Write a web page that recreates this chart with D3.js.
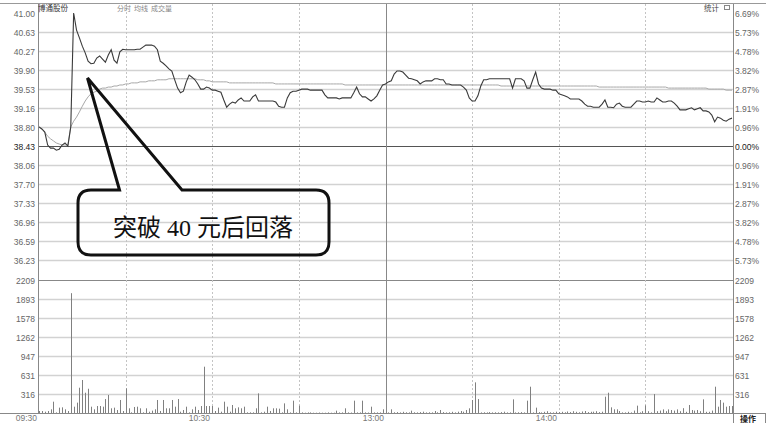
<!DOCTYPE html>
<html><head><meta charset="utf-8">
<script src="https://cdn.jsdelivr.net/npm/d3@7"></script>
<style>html,body{margin:0;padding:0;background:#fff;}svg{display:block;}</style>
</head><body>
<svg id="c" width="766" height="423"></svg>
<script>
// ---- data ----
const stockName = "博通股份";
const headerItems = ["分时","均线","成交量"];
const priceTicks = ["41.00","40.63","40.27","39.90","39.53","39.16","38.80","38.43","38.06","37.70","37.33","36.96","36.59","36.23"];
const pctTicks = ["6.69%","5.73%","4.78%","3.82%","2.87%","1.91%","0.96%","0.00%","0.96%","1.91%","2.87%","3.82%","4.78%","5.73%"];
const volTicks = [2209,1893,1578,1262,947,631,316];
const timeMarks = [0,30,60,90,120,150,180,210,240];
const timeLabels = [{m:0,t:"09:30"},{m:60,t:"10:30"},{m:120,t:"13:00"},{m:180,t:"14:00"}];
const prevClose = 38.43;
const price = [
38.80,38.76,38.70,38.45,38.39,38.39,38.35,38.37,38.45,38.49,38.43,38.80,
41.00,40.67,40.52,40.36,40.23,40.07,40.02,40.03,40.13,40.17,40.11,40.05,
40.19,40.29,40.09,40.03,40.25,40.30,40.29,40.29,40.29,40.29,40.30,40.30,
40.34,40.38,40.38,40.38,40.36,40.29,40.07,40.03,39.98,39.92,39.88,39.71,
39.55,39.46,39.49,39.67,39.80,39.76,39.71,39.63,39.53,39.53,39.57,39.55,
39.51,39.51,39.49,39.47,39.32,39.18,39.24,39.28,39.26,39.32,39.36,39.30,
39.30,39.30,39.38,39.42,39.30,39.30,39.30,39.30,39.30,39.30,39.28,39.20,
39.18,39.18,39.36,39.46,39.49,39.49,39.51,39.53,39.53,39.53,39.51,39.51,
39.51,39.51,39.51,39.42,39.36,39.36,39.36,39.36,39.34,39.36,39.36,39.36,
39.36,39.46,39.57,39.44,39.38,39.38,39.34,39.30,39.34,39.40,39.51,39.61,
39.63,39.67,39.69,39.82,39.88,39.88,39.86,39.80,39.74,39.73,39.71,39.69,
39.63,39.67,39.69,39.69,39.69,39.73,39.73,39.71,39.71,39.63,39.63,39.61,
39.61,39.61,39.61,39.57,39.51,39.36,39.30,39.30,39.40,39.59,39.71,39.71,
39.73,39.73,39.73,39.73,39.73,39.73,39.73,39.73,39.55,39.73,39.73,39.73,
39.69,39.55,39.55,39.71,39.86,39.63,39.55,39.53,39.53,39.53,39.51,39.51,
39.44,39.42,39.40,39.38,39.34,39.34,39.34,39.34,39.30,39.24,39.20,39.20,
39.18,39.18,39.18,39.24,39.32,39.18,39.18,39.17,39.24,39.26,39.20,39.18,
39.18,39.18,39.24,39.30,39.30,39.28,39.28,39.30,39.28,39.28,39.36,39.32,
39.28,39.28,39.30,39.30,39.26,39.20,39.13,39.13,39.13,39.15,39.17,39.13,
39.15,39.17,39.11,39.11,39.09,39.03,38.90,38.99,38.97,38.93,38.91,38.95,38.97
];
const avgPrice = [
38.80,38.76,38.70,38.62,38.57,38.53,38.49,38.47,38.45,38.45,38.45,38.80,
38.91,38.99,39.09,39.20,39.30,39.38,39.44,39.47,39.49,39.53,39.55,39.55,
39.57,39.57,39.59,39.59,39.61,39.61,39.63,39.63,39.65,39.65,39.65,39.67,
39.67,39.67,39.69,39.69,39.69,39.71,39.71,39.71,39.71,39.73,39.73,39.73,
39.73,39.73,39.73,39.73,39.73,39.73,39.73,39.71,39.71,39.71,39.69,39.69,
39.67,39.67,39.67,39.67,39.67,39.67,39.65,39.65,39.65,39.65,39.65,39.65,
39.65,39.65,39.65,39.65,39.65,39.65,39.65,39.65,39.65,39.65,39.63,39.63,
39.63,39.63,39.63,39.63,39.63,39.63,39.63,39.63,39.63,39.63,39.63,39.63,
39.63,39.63,39.63,39.63,39.63,39.63,39.63,39.63,39.63,39.63,39.61,39.61,
39.61,39.61,39.61,39.61,39.61,39.61,39.61,39.61,39.61,39.61,39.61,39.61,
39.61,39.61,39.61,39.61,39.61,39.61,39.61,39.61,39.61,39.61,39.61,39.61,
39.61,39.61,39.61,39.61,39.61,39.61,39.61,39.61,39.61,39.61,39.61,39.61,
39.61,39.61,39.61,39.61,39.61,39.61,39.61,39.61,39.61,39.61,39.61,39.61,
39.61,39.61,39.61,39.61,39.59,39.59,39.59,39.59,39.59,39.59,39.59,39.59,
39.59,39.59,39.59,39.59,39.59,39.59,39.59,39.59,39.59,39.59,39.59,39.59,
39.59,39.59,39.59,39.59,39.59,39.59,39.59,39.59,39.59,39.59,39.59,39.59,
39.59,39.59,39.57,39.57,39.57,39.57,39.57,39.57,39.57,39.57,39.57,39.57,
39.57,39.57,39.57,39.57,39.57,39.57,39.57,39.57,39.57,39.57,39.57,39.57,
39.57,39.57,39.55,39.55,39.55,39.55,39.55,39.55,39.55,39.55,39.55,39.55,
39.55,39.55,39.55,39.55,39.53,39.53,39.53,39.53,39.53,39.53,39.51,39.51,39.51
];
const volume = [
33,33,22,33,61,188,10,89,94,61,33,1990,
105,172,420,548,337,403,105,61,116,116,105,232,
299,78,89,50,216,33,409,78,11,100,105,78,
11,78,22,39,61,216,33,216,78,78,216,105,
232,22,50,105,11,61,105,50,116,769,116,116,
116,33,89,22,188,105,22,133,78,94,78,105,
11,11,11,78,326,11,22,105,33,78,78,72,
10,160,61,10,205,10,122,10,5,10,10,5,
5,8,5,5,10,5,5,39,10,10,78,10,
8,205,10,10,205,10,8,105,10,10,10,61,
10,10,61,12,15,10,20,12,10,39,12,10,
15,22,10,12,10,33,12,50,15,10,12,20,
10,22,33,22,50,78,216,509,232,10,12,10,
15,10,12,10,15,22,10,10,227,10,12,15,
10,205,437,10,89,15,10,20,30,12,10,22,
15,20,12,25,15,30,20,12,25,33,15,20,
22,30,15,22,271,337,94,61,61,33,10,10,
20,10,40,122,10,30,127,30,10,315,30,40,
60,30,60,50,40,60,30,80,20,133,50,40,
50,30,227,20,20,40,437,105,216,172,105,116,116
];

// ---- chart ----
const svg = d3.select("#c");
const L = 38, R = 733;
const x = d3.scaleLinear().domain([0,240]).range([39,732]);
const y = d3.scaleLinear().domain([36.23,41.00]).range([260,13]);
const yv = d3.scaleLinear().domain([0,2209]).range([413,280]);
const numFont = "'Liberation Sans', Arial, sans-serif";
const cjkFont = "'Noto Sans CJK SC', sans-serif";

// outer frame
svg.append("line").attr("x1",0).attr("x2",766).attr("y1",3.5).attr("y2",3.5).attr("stroke","#999");
svg.append("line").attr("x1",0).attr("x2",766).attr("y1",413.5).attr("y2",413.5).attr("stroke","#888");

// horizontal grid (price)
priceTicks.forEach((t,i)=>{
  const yy = Math.round(y(+t))+0.5;
  if(i>0){
    svg.append("line").attr("x1",L).attr("x2",R).attr("y1",yy).attr("y2",yy)
      .attr("stroke", t==="38.43" ? "#555" : "#d2d2d2").attr("stroke-width", t==="38.43"?1:1.6);
  }
  svg.append("text").attr("x",35).attr("y",yy+3).attr("text-anchor","end")
    .attr("font-family",numFont).attr("font-size",8.5)
    .attr("fill", t==="38.43" ? "#222" : "#666").text(t);
  svg.append("text").attr("x",735).attr("y",yy+3)
    .attr("font-family",numFont).attr("font-size",8.5)
    .attr("fill", pctTicks[i]==="0.00%" ? "#222" : "#666").text(pctTicks[i]);
});
// volume grid
volTicks.forEach((v,i)=>{
  const yy = Math.round(yv(v))+0.5;
  svg.append("line").attr("x1",L).attr("x2",R).attr("y1",yy).attr("y2",yy)
    .attr("stroke", i===0 ? "#888" : "#d2d2d2").attr("stroke-width", i===0?1.2:1.6);
  svg.append("text").attr("x",35).attr("y",yy+3).attr("text-anchor","end")
    .attr("font-family",numFont).attr("font-size",8.5).attr("fill","#666").text(v);
  svg.append("text").attr("x",735).attr("y",yy+3)
    .attr("font-family",numFont).attr("font-size",8.5).attr("fill","#666").text(v);
});

// vertical time lines
timeMarks.forEach(m=>{
  const xx = Math.round(x(m))+0.5;
  if(m===0||m===240) return;
  const solid = m===120;
  svg.append("line").attr("x1",xx).attr("x2",xx).attr("y1",4).attr("y2",413)
    .attr("stroke", solid ? "#888" : "#c4c4c4").attr("stroke-width",1)
    .attr("stroke-dasharray", solid ? null : "2,2");
});
svg.append("line").attr("x1",L+0.5).attr("x2",L+0.5).attr("y1",4).attr("y2",413).attr("stroke","#888");
svg.append("line").attr("x1",R+0.5).attr("x2",R+0.5).attr("y1",4).attr("y2",423).attr("stroke","#888");

// time labels
timeLabels.forEach(d=>{
  svg.append("text").attr("x",Math.round(x(d.m))-2).attr("y",421).attr("text-anchor","end")
    .attr("font-family",numFont).attr("font-size",8.5).attr("fill","#777").text(d.t);
});

// volume bars
svg.append("g").selectAll("line").data(volume).join("line")
  .attr("x1",(d,i)=>Math.round(x(i))+0.5).attr("x2",(d,i)=>Math.round(x(i))+0.5)
  .attr("y1",yv(0)).attr("y2",d=>yv(d))
  .attr("stroke","#808080").attr("stroke-width",1);

// avg line
svg.append("path").datum(avgPrice)
  .attr("d", d3.line().x((d,i)=>x(i)).y(d=>y(d)))
  .attr("fill","none").attr("stroke","#a8a8a8").attr("stroke-width",1);
// price line
svg.append("path").datum(price)
  .attr("d", d3.line().x((d,i)=>x(i)).y(d=>y(d)))
  .attr("fill","none").attr("stroke","#3a3a3a").attr("stroke-width",1.1);

// header
svg.append("text").attr("x",38).attr("y",11).attr("font-family",cjkFont)
  .attr("font-size",7.5).attr("fill","#333").text(stockName);
const hx = [117,134,151];
headerItems.forEach((h,i)=>{
  svg.append("text").attr("x",hx[i]).attr("y",11).attr("font-family",cjkFont)
    .attr("font-size",7).attr("fill","#888").text(h);
});
svg.append("text").attr("x",704).attr("y",11).attr("font-family",cjkFont)
  .attr("font-size",7.5).attr("fill","#444").text("统计");
svg.append("rect").attr("x",724.5).attr("y",5.5).attr("width",5).attr("height",4).attr("fill","none").attr("stroke","#888");
// 操作 box
svg.append("rect").attr("x",733.5).attr("y",413.5).attr("width",32).attr("height",10).attr("fill","#fff").attr("stroke","#888");
svg.append("text").attr("x",740).attr("y",421.5).attr("font-family",cjkFont)
  .attr("font-size",8).attr("font-weight","bold").attr("fill","#222").text("操作");

// callout
const p = d3.path();
const bx0=78,bx1=329,by0=190,by1=255,r=13, tipX=87.5,tipY=78, b1=119.5,b2=182;
p.moveTo(b1,by0); p.lineTo(tipX,tipY); p.lineTo(b2,by0);
p.lineTo(bx1-r,by0); p.quadraticCurveTo(bx1,by0,bx1,by0+r);
p.lineTo(bx1,by1-r); p.quadraticCurveTo(bx1,by1,bx1-r,by1);
p.lineTo(bx0+r,by1); p.quadraticCurveTo(bx0,by1,bx0,by1-r);
p.lineTo(bx0,by0+r); p.quadraticCurveTo(bx0,by0,bx0+r,by0);
p.closePath();
svg.append("path").attr("d",p.toString()).attr("fill","none").attr("stroke","#111").attr("stroke-width",3).attr("stroke-linejoin","miter");
svg.append("text").attr("x",203).attr("y",236).attr("text-anchor","middle")
  .attr("font-family","'Liberation Serif','Noto Sans CJK SC',serif").attr("font-size",24).attr("fill","#111")
  .text("突破 40 元后回落");
</script>
</body></html>
